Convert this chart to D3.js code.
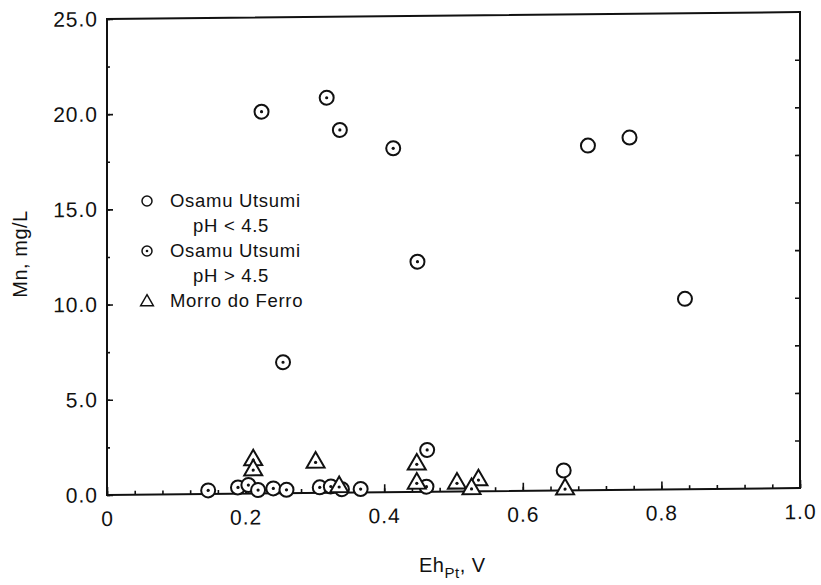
<!DOCTYPE html>
<meta charset="utf-8">
<style>
body { margin: 0; background: #fff; }
svg { font-family: 'Liberation Sans', Arial, sans-serif; }
.axis text { font-size: 21px; fill: #111; letter-spacing: 1px; }
.axis line { stroke: #111; stroke-width: 1.6; }
.axis path { display: none; }
.frame { fill: none; stroke: #111; stroke-width: 2; }
.mark { fill: none; stroke: #111; stroke-width: 2; }
.dot { fill: #111; }
.legend { font-size: 18.5px; fill: #111; letter-spacing: 0.7px; }
.title { font-size: 20px; fill: #111; letter-spacing: 0.5px; }
</style>
<body>
<div id="chart"></div>
<script src="https://cdn.jsdelivr.net/npm/d3@7"></script>
<script>
// Osamu Utsumi, pH < 4.5 (open circles)
var lowX = [0.694, 0.754, 0.834, 0.659];
var lowY = [18.1, 18.5, 10.0, 1.05];

// Osamu Utsumi, pH > 4.5 (dotted circles)
var highX = [0.223, 0.317, 0.336, 0.413, 0.448, 0.254, 0.462,
             0.146, 0.189, 0.204, 0.218, 0.240, 0.259, 0.307, 0.323, 0.339, 0.366, 0.461];
var highY = [20.05, 20.75, 19.05, 18.06, 12.09, 6.88, 2.2,
             0.19, 0.33, 0.45, 0.18, 0.26, 0.18, 0.29, 0.33, 0.18, 0.18, 0.27];

// Morro do Ferro (triangles)
var morroX = [0.211, 0.211, 0.301, 0.335, 0.447, 0.447, 0.505, 0.536, 0.526, 0.661];
var morroY = [1.76, 1.23, 1.6, 0.3, 1.45, 0.45, 0.43, 0.59, 0.13, 0.07];

var yTicks = [0, 5, 10, 15, 20, 25];
var xTicks = [0, 0.2, 0.4, 0.6, 0.8, 1.0];

var W = 821, H = 585;
var margin = {top: 19, right: 21, bottom: 90, left: 107};
var w = W - margin.left - margin.right,
    h = H - margin.top - margin.bottom;

var svg = d3.select('#chart').append('svg')
    .attr('width', W)
    .attr('height', H);

// scanned figure is slightly skewed, right side sits higher
var g = svg.append('g')
    .attr('transform', 'translate(' + margin.left + ',' + margin.top + ') skewY(-0.57)');

var x = d3.scaleLinear().domain([0, 1]).range([0, w]);
var y = d3.scaleLinear().domain([0, 25]).range([h, 0]);

// x axis: minor every 0.04, major every 0.2, ticks pointing in
g.append('g').attr('class', 'axis')
    .attr('transform', 'translate(0,' + h + ')')
    .call(d3.axisBottom(x).tickValues(d3.range(0, 1.001, 0.04)).tickSizeInner(-4).tickSizeOuter(0).tickFormat(''));
g.append('g').attr('class', 'axis')
    .attr('transform', 'translate(0,' + h + ')')
    .call(d3.axisBottom(x).tickValues(xTicks).tickSizeInner(-8).tickSizeOuter(0).tickPadding(16)
      .tickFormat(function(d) { return d === 0 ? '0' : d3.format('.1f')(d); }));

// y axis: minor every 2.5, major every 5
g.append('g').attr('class', 'axis')
    .call(d3.axisLeft(y).tickValues(d3.range(0, 25.1, 2.5)).tickSizeInner(-3).tickSizeOuter(0).tickFormat(''));
g.append('g').attr('class', 'axis')
    .call(d3.axisLeft(y).tickValues(yTicks).tickSizeInner(-6).tickSizeOuter(0).tickPadding(9)
      .tickFormat(d3.format('.1f')));

// right side ticks
g.append('g').attr('class', 'axis')
    .attr('transform', 'translate(' + w + ',0)')
    .call(d3.axisRight(y).tickValues(d3.range(2.5, 25, 2.5)).tickSizeInner(-5).tickSizeOuter(0).tickFormat(''));

g.append('rect').attr('class', 'frame')
    .attr('x', 0).attr('y', 0).attr('width', w).attr('height', h);

var tri = d3.symbol().type(d3.symbolTriangle).size(140);

// points
g.selectAll('.low').data(lowX).enter().append('circle')
    .attr('class', 'mark low')
    .attr('cx', function(d) { return x(d); })
    .attr('cy', function(d, i) { return y(lowY[i]); })
    .attr('r', 7);

var hi = g.selectAll('.high').data(highX).enter().append('g')
    .attr('class', 'high')
    .attr('transform', function(d, i) { return 'translate(' + x(d) + ',' + y(highY[i]) + ')'; });
hi.append('circle').attr('r', 7).attr('class', 'mark').style('fill', '#fff');
hi.append('circle').attr('r', 1.6).attr('class', 'dot');

var mo = g.selectAll('.morro').data(morroX).enter().append('g')
    .attr('class', 'morro')
    .attr('transform', function(d, i) { return 'translate(' + x(d) + ',' + y(morroY[i]) + ')'; });
mo.append('path').attr('d', tri).attr('class', 'mark').style('fill', '#fff');
mo.append('circle').attr('r', 1.6).attr('class', 'dot');

// legend
var lg = svg.append('g');
lg.append('circle').attr('class', 'mark').attr('cx', 147).attr('cy', 201).attr('r', 5).style('stroke-width', 1.5);
lg.append('text').attr('class', 'legend').attr('x', 170).attr('y', 207).text('Osamu Utsumi');
lg.append('text').attr('class', 'legend').attr('x', 193).attr('y', 232).text('pH < 4.5');
lg.append('circle').attr('class', 'mark').attr('cx', 147).attr('cy', 251).attr('r', 5).style('stroke-width', 1.5);
lg.append('circle').attr('class', 'dot').attr('cx', 147).attr('cy', 251).attr('r', 1.3);
lg.append('text').attr('class', 'legend').attr('x', 170).attr('y', 257).text('Osamu Utsumi');
lg.append('text').attr('class', 'legend').attr('x', 193).attr('y', 282).text('pH > 4.5');
lg.append('path').attr('class', 'mark')
    .attr('d', d3.symbol().type(d3.symbolTriangle).size(70))
    .attr('transform', 'translate(147,302)').style('stroke-width', 1.5);
lg.append('text').attr('class', 'legend').attr('x', 170).attr('y', 307).text('Morro do Ferro');

// axis titles
svg.append('text').attr('class', 'title')
    .attr('transform', 'translate(27,254) rotate(-90)')
    .attr('text-anchor', 'middle')
    .text('Mn, mg/L');

var xt = svg.append('text').attr('class', 'title')
    .attr('x', 419).attr('y', 572);
xt.append('tspan').text('Eh');
xt.append('tspan').attr('dy', 6).style('font-size', '15px').text('Pt');
xt.append('tspan').attr('dy', -6).text(', V');
</script>
</body>
